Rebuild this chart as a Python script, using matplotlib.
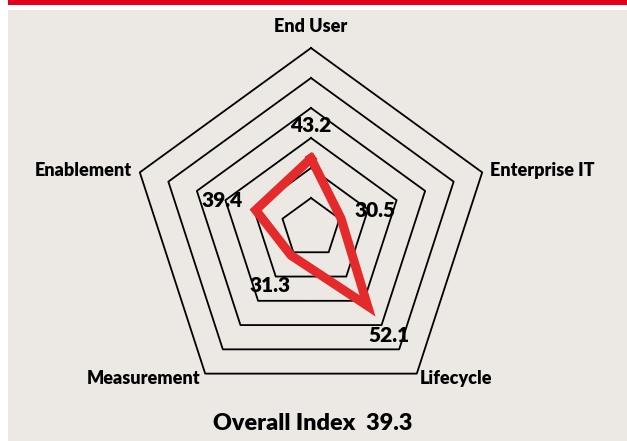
import numpy as np
import matplotlib
matplotlib.use("Agg")
import matplotlib.pyplot as plt
from matplotlib.patches import Rectangle

categories = ["End User", "Enterprise IT", "Lifecycle", "Measurement", "Enablement"]
values = [43.2, 30.5, 52.1, 31.3, 39.4]
ring_levels = [30, 40, 50, 60, 70, 80]
r_min, r_max = 20, 80
overall_label = "Overall Index  39.3"

plt.rcParams['font.family'] = ['Lato', 'DejaVu Sans']

W, H = 627, 441
fig = plt.figure(figsize=(W / 100, H / 100), dpi=100, facecolor="white")

# background panel and red top bar
fig.patches.append(Rectangle((8 / W, 0), 1 - 8 / W, (H - 10) / H, transform=fig.transFigure,
                             facecolor="#ECE9E5", edgecolor="none", zorder=-10))
fig.patches.append(Rectangle((8 / W, (H - 5) / H), 1 - 8 / W, 5 / H, transform=fig.transFigure,
                             facecolor="#E2001A", edgecolor="none", zorder=-10))

cx, cy, R = 311, 228, 180
ax = fig.add_axes([(cx - R) / W, (H - cy - R) / H, 2 * R / W, 2 * R / H], projection="polar")
ax.set_zorder(5)
ax.set_facecolor("none")
ax.set_theta_offset(np.pi / 2)
ax.set_theta_direction(-1)
ax.set_ylim(r_min, r_max)
ax.grid(False)
ax.spines["polar"].set_visible(False)
ax.set_xticks([])
ax.set_yticks([])

n = len(categories)
theta = np.arange(n) * 2 * np.pi / n
theta_c = np.append(theta, theta[0])

for lv in ring_levels:
    ax.plot(theta_c, [lv] * (n + 1), color="black", lw=1.3, clip_on=False, zorder=2)

vals_c = np.append(values, values[0])
ax.plot(theta_c, vals_c, color="#E42A2A", lw=6.5, solid_joinstyle="miter", zorder=3, clip_on=False)

# category labels
cat_offsets = [(0, 21, "center"), (8, 2, "left"), (3, -5, "left"), (-5, -5, "right"), (-8, 2, "right")]
for t, lab, (dx, dy, ha) in zip(theta, categories, cat_offsets):
    ax.annotate(lab, xy=(t, r_max), xytext=(dx, dy), textcoords="offset pixels",
                ha=ha, va="center", fontsize=13, fontweight="heavy", color="black",
                annotation_clip=False)

# value labels
val_offsets = [(0, 33), (34, 8), (21, -30), (-21, -30), (-34, 10)]
for t, v, (dx, dy) in zip(theta, values, val_offsets):
    ax.annotate(f"{v:.1f}", xy=(t, v), xytext=(dx, dy), textcoords="offset pixels",
                ha="center", va="center", fontsize=15, fontweight="heavy", color="black",
                annotation_clip=False, zorder=4)

fig.text(313 / W, 1 - 423 / H, overall_label, ha="center", va="center",
         fontsize=16.8, fontweight="heavy", color="black")

fig.savefig("out.png", dpi=100, facecolor="white")
